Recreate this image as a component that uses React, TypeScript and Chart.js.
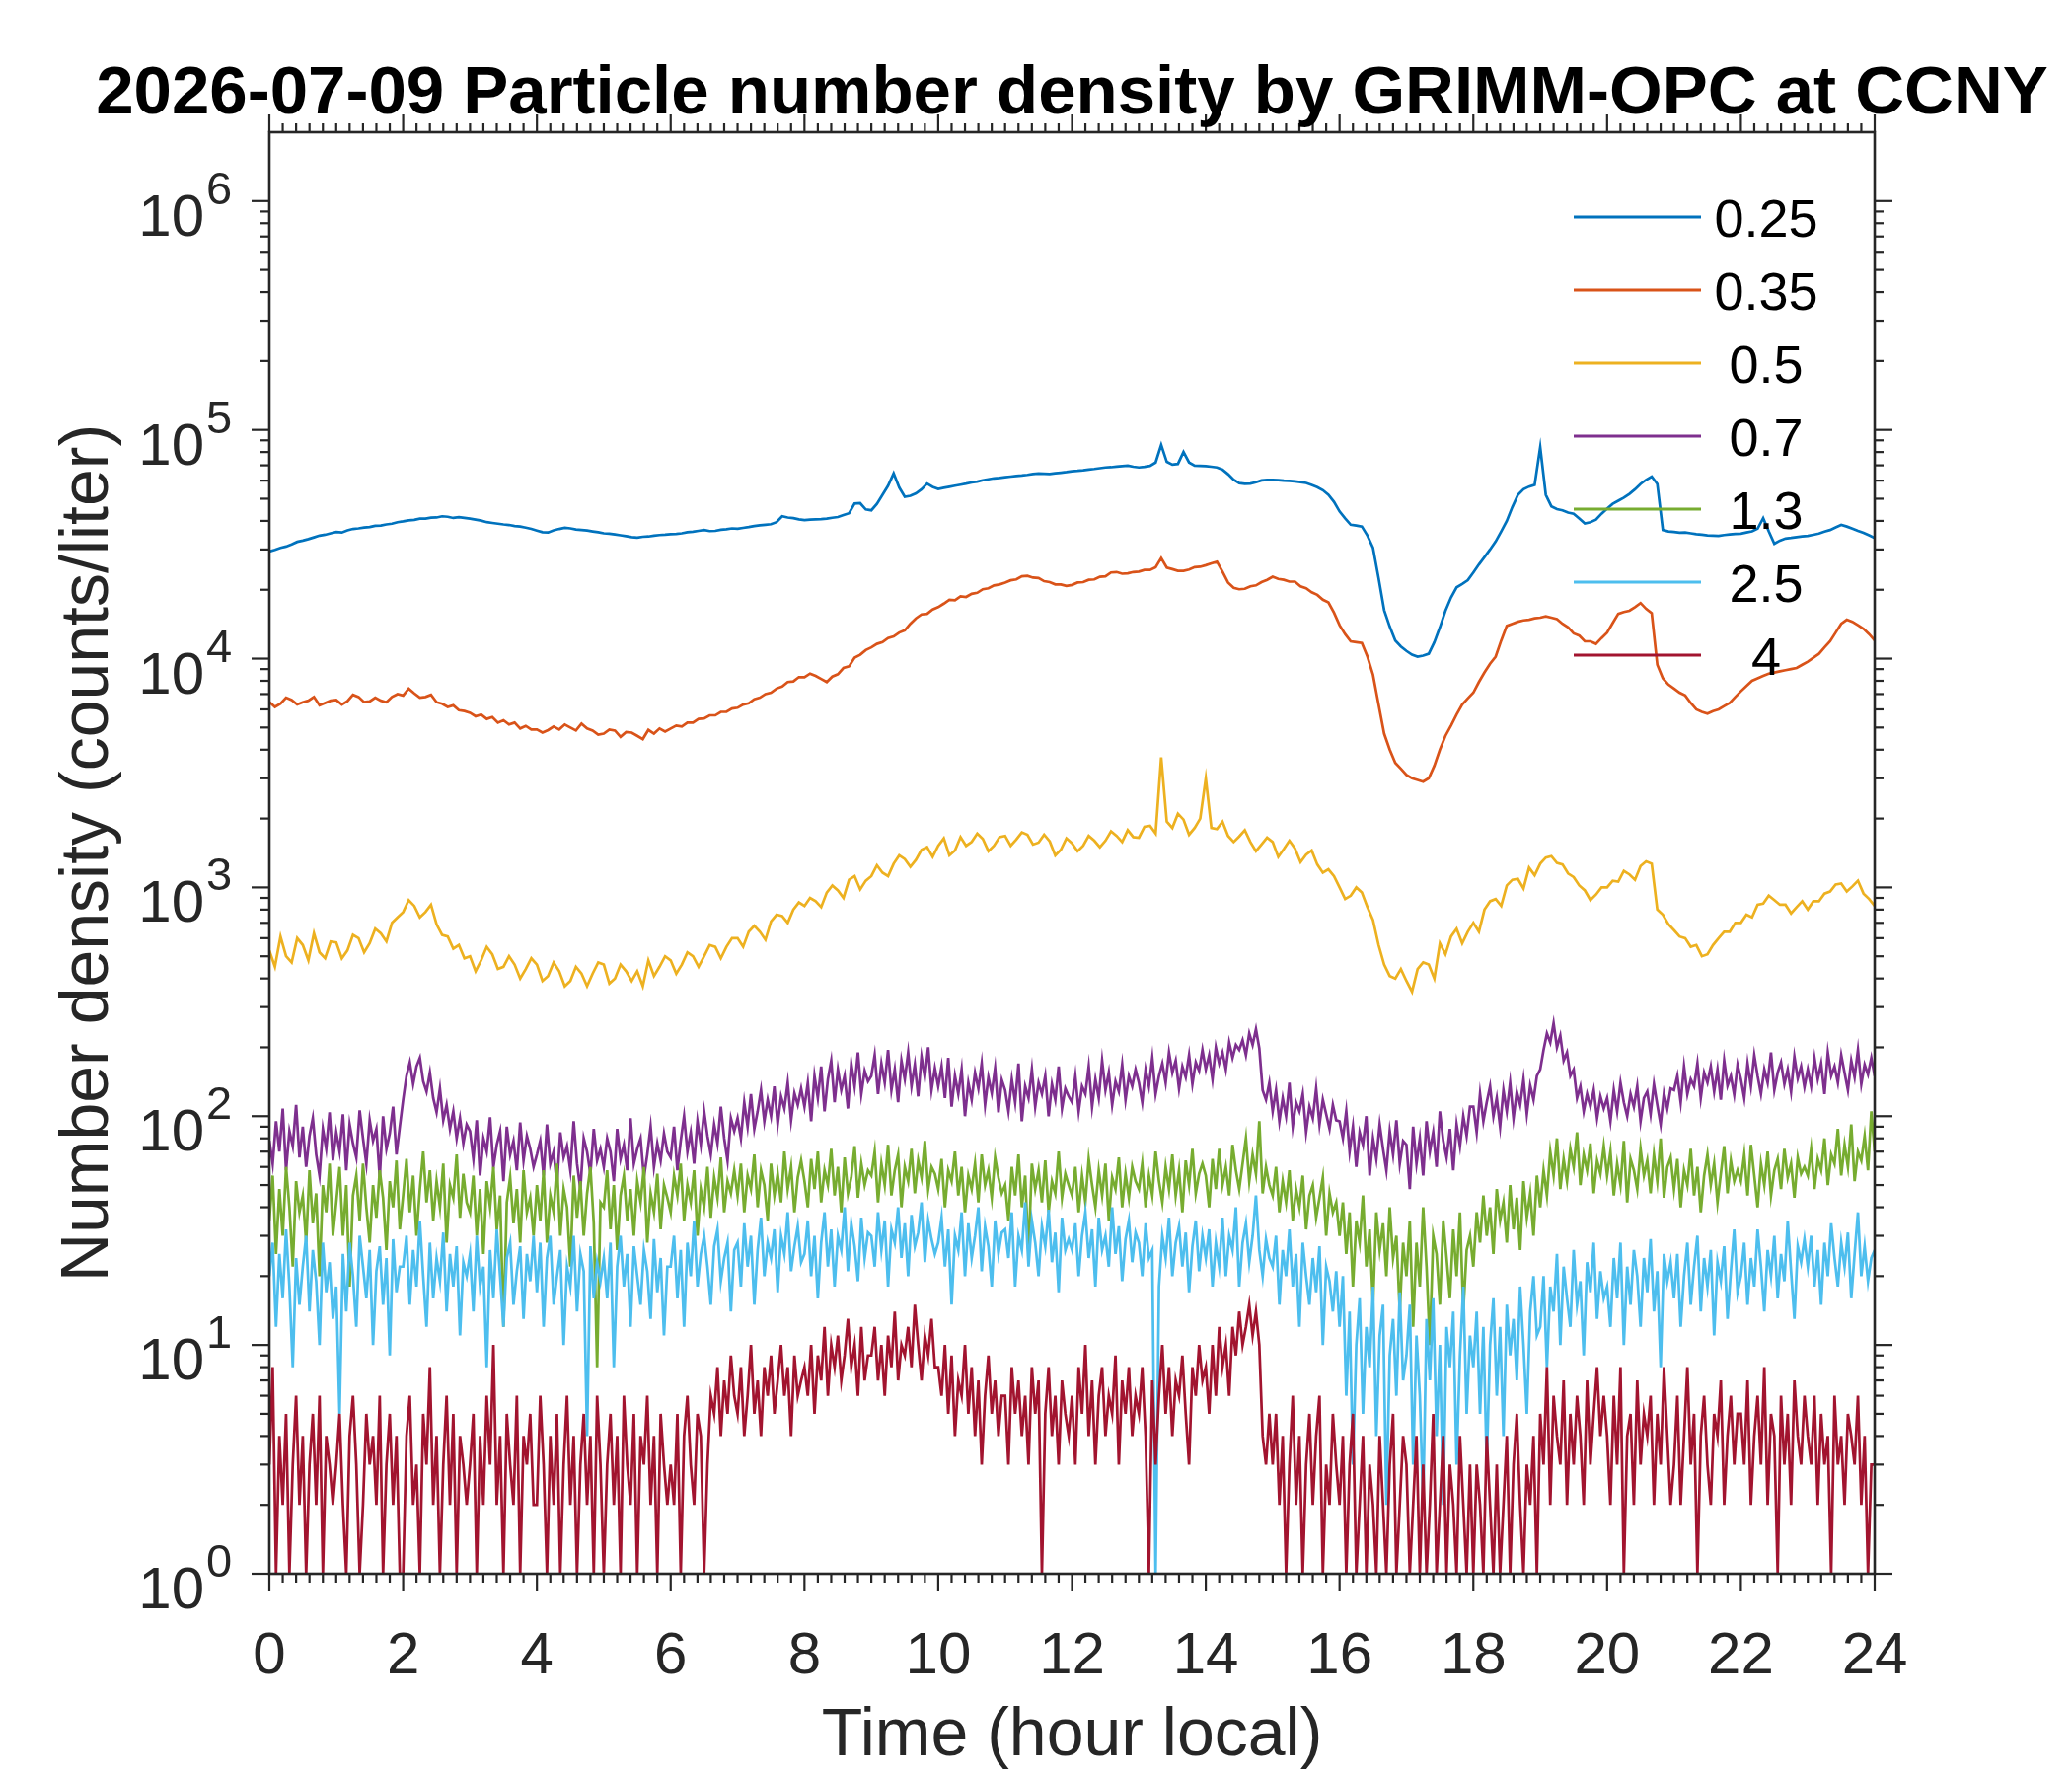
import React, { useEffect, useRef } from 'react';
import { Chart, registerables } from 'chart.js';

Chart.register(...registerables);

const TITLE = '2026-07-09 Particle number density by GRIMM-OPC at CCNY';
const X_TITLE = 'Time (hour local)';
const Y_TITLE = 'Number density (counts/liter)';
const SIZE_LABELS = ['0.25', '0.35', '0.5', '0.7', '1.3', '2.5', '4'];
const COLORS = ['#0072BD', '#D95319', '#EDB120', '#7E2F8E', '#77AC30', '#4DBEEE', '#A2142F'];
const X_TICKS = [0, 2, 4, 6, 8, 10, 12, 14, 16, 18, 20, 22, 24];
const Y_DECADES = [0, 1, 2, 3, 4, 5, 6];

// sampling times (hours): 5-minute and 3-minute records
const HOURS_5MIN = Array.from({ length: 289 }, (_, i) => i / 12);
const HOURS_3MIN = Array.from({ length: 481 }, (_, i) => i / 20);

// 0.25 um channel (5-min)
const N025 = [
  29400, 29900, 30500, 30900, 31600, 32400, 32800, 33300, 33900, 34500, 34800, 35300,
  35800, 35600, 36400, 36900, 37100, 37400, 37600, 38100, 38200, 38600, 38900, 39500,
  39800, 40200, 40400, 40900, 40900, 41300, 41400, 41900, 41700, 41200, 41500, 41200,
  40900, 40500, 40100, 39500, 39200, 38900, 38600, 38400, 38000, 37800, 37400, 36900,
  36300, 35700, 35600, 36400, 36900, 37300, 37100, 36700, 36500, 36300, 36000, 35700,
  35300, 35200, 34900, 34600, 34300, 34000, 33800, 34100, 34200, 34500, 34700, 34800,
  35000, 35100, 35300, 35700, 35900, 36200, 36500, 36100, 36200, 36600, 36800, 37100,
  37000, 37300, 37600, 38000, 38300, 38500, 38700, 39500, 41900, 41400, 41100, 40600,
  40300, 40500, 40600, 40700, 40900, 41300, 41600, 42400, 43200, 47600, 47800, 44900,
  44500, 47500, 52000, 57000, 64500, 56000, 51000, 51500, 52800, 55000, 58200, 56300,
  55200, 55800, 56400, 57000, 57600, 58200, 58900, 59400, 60200, 60800, 61400, 61700,
  62100, 62500, 62900, 63200, 63600, 64100, 64500, 64300, 64100, 64600, 65000, 65400,
  65900, 66200, 66600, 67100, 67500, 68000, 68500, 68700, 69100, 69500, 69800, 69000,
  68500, 68900, 69600, 72000, 86000, 72500, 70500, 71000, 80000, 72000, 69800, 69600,
  69400, 69000, 68500, 67000, 64000, 60500, 58500, 58100, 58200, 59000, 60100, 60400,
  60500, 60300, 60000, 59800, 59500, 59100, 58600, 57500, 56200, 54500, 52000, 48500,
  44000, 41000, 38500, 38200, 37800, 34500, 30500, 22500, 16300, 13800, 12000, 11300,
  10800, 10400, 10200, 10300, 10500, 11800, 13700, 16200, 18500, 20500, 21200, 22000,
  23800, 25800, 27800, 30000, 32500, 36000, 40000, 46000, 52000, 55000, 56500, 57500,
  84000, 52000, 46300, 45000, 44500, 43500, 43000, 41000, 39000, 39500, 40500, 43000,
  45300, 47500, 49000, 50500, 52500, 55000, 58000, 60500, 62500, 58000, 36500, 36000,
  35800, 35500, 35600, 35300, 35000, 34800, 34600, 34500, 34400, 34700, 34900, 35100,
  35200, 35600, 36000, 37000, 41100, 36000, 31800, 32800, 33500, 33700, 34000, 34200,
  34400, 34800, 35200, 35900, 36500, 37500, 38400, 37800, 37000, 36200, 35500, 34600,
  33700,
];

// 0.35 um channel (5-min)
const N035 = [
  6470, 6150, 6350, 6750, 6600, 6300, 6450, 6550, 6800, 6250, 6400, 6550,
  6600, 6300, 6520, 6950, 6800, 6450, 6500, 6750, 6550, 6450, 6800, 7000,
  6900, 7400, 7050, 6750, 6800, 6950, 6450, 6350, 6150, 6250, 5950, 5900,
  5800, 5600, 5700, 5450, 5550, 5250, 5380, 5150, 5250, 4950, 5080, 4900,
  4900, 4750, 4870, 5050, 4900, 5150, 5000, 4850, 5200, 4950, 4850, 4650,
  4700, 4900, 4850, 4550, 4780, 4750, 4600, 4450, 4880, 4700, 4950, 4800,
  4950, 5100, 5050, 5250, 5250, 5450, 5480, 5650, 5650, 5850, 5850, 6050,
  6100, 6300, 6380, 6650, 6750, 7000, 7100, 7400, 7550, 7900, 7950, 8300,
  8300, 8600, 8400, 8150, 7900, 8350, 8550, 9100, 9250, 10100, 10400, 10900,
  11200, 11600, 11800, 12300, 12500, 13000, 13300, 14200, 15000, 15600, 15700, 16400,
  16800, 17400, 18100, 18000, 18700, 18600, 19200, 19400, 20100, 20300, 20900, 21100,
  21500, 22000, 22200, 22900, 23000, 22600, 22500, 21800, 21600, 21100, 21100, 20800,
  21000, 21500, 21600, 22100, 22200, 22800, 22900, 23800, 23900, 23500, 23600, 23900,
  24000, 24400, 24400, 25100, 27500, 25000, 24600, 24200, 24200, 24500, 25100, 25200,
  25600, 26100, 26500, 24000, 21500, 20400, 20100, 20200, 20700, 20900, 21600, 22100,
  22800, 22300, 22100, 21700, 21700, 20700, 20300, 19500, 19000, 18100, 17600, 15900,
  14000, 12800, 11900, 11800, 11700, 10200, 8500, 6300, 4700, 4000, 3500, 3300,
  3100, 3000, 2950, 2900, 3000, 3400, 4000, 4600, 5100, 5700, 6300, 6700,
  7100, 7900, 8700, 9500, 10200, 12000, 13900, 14200, 14500, 14700, 14800, 15000,
  15100, 15300, 15100, 14900, 14200, 13700, 12900, 12600, 11900, 11900, 11600, 12300,
  13000, 14300, 15700, 16000, 16200, 16800, 17500, 16500, 15800, 9400, 8200, 7700,
  7400, 7100, 6900, 6400, 6000, 5850, 5750, 5900, 6000, 6200, 6400, 6800,
  7200, 7600, 8000, 8200, 8400, 8600, 8700, 8800, 8900, 9000, 9100, 9400,
  9700, 10100, 10500, 11200, 11900, 13000, 14200, 14800, 14500, 14000, 13500, 12800,
  12000,
];

// 0.5 um channel (5-min)
const N05 = [
  530, 450, 610, 500, 470, 600, 560, 480, 630, 520, 490, 580,
  575, 490, 530, 620, 600, 520, 570, 660, 630, 580, 700, 740,
  780, 880, 830, 740, 780, 840, 690, 620, 610, 540, 560, 490,
  500, 430, 480, 550, 510, 440, 450, 500, 460, 400, 440, 490,
  460, 390, 410, 470, 430, 370, 390, 450, 420, 370, 420, 470,
  460, 380, 400, 460, 430, 390, 430, 370, 480, 410, 450, 500,
  480, 420, 460, 520, 500, 450, 500, 560, 550, 490, 550, 600,
  600, 550, 640, 680, 640, 590, 710, 760, 750, 700, 800, 860,
  830, 900, 870, 820, 950, 1020, 970, 900, 1080, 1120, 980, 1070,
  1120, 1250, 1160, 1120, 1270, 1380, 1330, 1230, 1320, 1460, 1500, 1360,
  1520, 1640, 1380, 1450, 1660, 1520, 1580, 1720, 1630, 1440, 1520, 1660,
  1680, 1520, 1620, 1740, 1700, 1540, 1570, 1700, 1590, 1380, 1460, 1640,
  1560, 1440, 1520, 1680, 1600, 1500, 1600, 1760, 1680, 1580, 1780, 1660,
  1650, 1840, 1860, 1720, 3700, 1940, 1820, 2100, 1980, 1700, 1820, 2000,
  3000, 1820, 1800, 1940, 1680, 1580, 1670, 1780, 1580, 1440, 1540, 1650,
  1580, 1360, 1470, 1600, 1480, 1290, 1390, 1450, 1260, 1160, 1200, 1120,
  1000, 890, 920, 1000, 950, 820, 720, 560, 460, 410, 400, 440,
  390, 350, 440, 470, 460, 400, 570, 510, 610, 660, 570, 640,
  700, 640, 800, 870, 890, 830, 1020, 1080, 1090, 990, 1220, 1130,
  1270, 1350, 1370, 1280, 1260, 1150, 1110, 1020, 970, 880, 930, 1000,
  1000, 1070, 1060, 1180, 1140, 1080, 1240, 1300, 1270, 800, 760, 690,
  650, 610, 600, 550, 560, 500, 510, 560, 600, 640, 640, 700,
  700, 760, 740, 840, 850, 920, 880, 840, 840, 770, 820, 870,
  800, 870, 870, 940, 960, 1030, 1040, 960, 1010, 1070, 940, 890,
  830,
];

// 0.7 um channel (3-min)
const N07 = [
  78, 62, 95, 70, 108, 58, 86, 74, 112, 66, 90, 60, 82, 98, 68, 55, 88, 72, 104, 64,
  85, 70, 102, 58, 92, 76, 66, 106, 80, 62, 96, 78, 88, 54, 100, 72, 84, 110, 68, 90,
  118, 150, 172, 138, 165, 180, 142, 128, 155, 120, 104, 132, 96, 112, 88, 105, 80, 98, 76, 92,
  86, 65, 96, 55, 80, 70, 99, 60, 75, 86, 52, 90, 68, 78, 58, 94, 64, 82, 72, 60,
  68, 78, 55, 92, 62, 70, 50, 85, 66, 74, 58, 95, 62, 48, 80, 70, 56, 88, 64, 72,
  60, 80, 70, 52, 88, 65, 75, 58, 98, 62, 72, 80, 54, 68, 90, 60, 76, 64, 84, 70,
  66, 90, 58, 78, 100, 70, 85, 62, 95, 75, 105, 82, 68, 92, 76, 110, 80, 64, 98, 86,
  98, 80, 115, 90, 125, 88, 105, 130, 95, 118, 100, 135, 92, 122, 108, 140, 96, 126, 112, 132,
  110, 140, 95, 150, 120, 165, 105, 145, 175, 115, 160, 130, 150, 108, 170, 135, 190, 125, 158, 142,
  150, 185, 125, 170, 140, 195, 130, 160, 115, 175, 145, 190, 135, 168, 122, 182, 148, 200, 130, 162,
  135, 165, 120, 180, 110, 150, 125, 160, 100, 140, 118, 155, 132, 170, 112, 148, 126, 162, 104, 144,
  130, 105, 145, 115, 170, 95, 135, 120, 160, 110, 140, 125, 150, 100, 138, 118, 165, 108, 132, 122,
  115, 150, 105, 135, 125, 165, 110, 145, 120, 175, 130, 155, 112, 142, 128, 168, 118, 150, 135, 160,
  140, 115, 160, 135, 180, 125, 150, 170, 140, 190, 155, 175, 132, 165, 148, 185, 138, 172, 158, 195,
  160, 185, 145, 200, 170, 190, 160, 210, 180, 205, 195, 215, 185, 230, 205, 240, 198, 130, 118, 140,
  105, 130, 95, 120, 100, 140, 90, 115, 105, 125, 85, 110, 98, 132, 92, 118, 102, 88, 112, 96,
  95, 80, 105, 70, 90, 60, 85, 75, 100, 55, 80, 65, 92, 72, 58, 86, 68, 96, 62, 78,
  75, 48, 90, 62, 80, 55, 95, 70, 85, 60, 105, 78, 66, 88, 58, 92, 74, 100, 82, 110,
  110, 85, 125, 95, 115, 135, 100, 120, 90, 130, 105, 140, 98, 128, 112, 145, 102, 136, 118, 150,
  160, 195, 230, 210, 255, 200, 225, 175, 190, 150, 160, 120, 135, 105, 125, 110, 130, 98, 122, 108,
  120, 95, 130, 105, 140, 115, 100, 125, 110, 135, 95, 120, 128, 102, 138, 112, 92, 126, 108, 132,
  130, 150, 115, 165, 125, 145, 135, 170, 120, 155, 140, 165, 128, 160, 118, 175, 136, 150, 124, 168,
  145, 120, 170, 135, 185, 150, 125, 160, 140, 190, 130, 155, 172, 138, 160, 128, 182, 146, 165, 134,
  160, 135, 180, 145, 170, 125, 190, 150, 165, 140, 185, 155, 130, 175, 148, 195, 138, 168, 152, 180,
  150,
];

// 1.3 um channel (3-min)
const N13 = [
  35, 55, 25, 48, 30, 60, 40, 22, 52, 38, 45, 28, 58, 34, 46, 20, 50, 38, 62, 30,
  42, 60, 30, 50, 18, 45, 55, 35, 62, 40, 28, 50, 36, 58, 44, 26, 52, 40, 64, 32,
  45, 65, 38, 55, 30, 48, 70, 42, 58, 35, 52, 40, 62, 28, 50, 44, 68, 36, 56, 42,
  38, 55, 30, 48, 25, 52, 40, 60, 32, 45, 12, 42, 54, 34, 48, 28, 58, 38, 44, 30,
  50, 35, 58, 28, 45, 38, 62, 30, 48, 40, 22, 55, 36, 52, 30, 46, 60, 34, 8, 42,
  40, 58, 32, 50, 26, 45, 55, 35, 48, 30, 52, 42, 60, 28, 46, 38, 56, 32, 50, 44,
  38, 55, 45, 62, 35, 50, 42, 58, 30, 48, 40, 60, 36, 54, 44, 66, 38, 52, 46, 58,
  45, 62, 38, 55, 48, 68, 40, 58, 50, 35, 62, 45, 56, 42, 70, 48, 60, 38, 54, 64,
  52, 40, 65, 48, 70, 42, 58, 50, 72, 45, 60, 38, 66, 46, 54, 74, 44, 62, 50, 58,
  55, 70, 42, 62, 50, 75, 45, 58, 68, 40, 60, 52, 72, 46, 64, 54, 78, 48, 60, 56,
  48, 65, 40, 58, 52, 70, 45, 60, 38, 55, 48, 62, 42, 68, 50, 58, 44, 66, 54, 46,
  50, 35, 60, 45, 68, 40, 55, 25, 62, 48, 58, 42, 64, 38, 52, 46, 70, 44, 56, 50,
  45, 60, 38, 55, 42, 65, 50, 40, 58, 45, 62, 35, 54, 48, 66, 40, 56, 44, 60, 52,
  48, 62, 40, 55, 45, 70, 52, 42, 60, 48, 68, 45, 58, 38, 64, 50, 72, 46, 56, 62,
  55, 40, 65, 48, 72, 50, 60, 45, 75, 58, 48, 62, 80, 52, 68, 56, 95, 46, 60, 50,
  45, 60, 38, 52, 42, 58, 35, 48, 40, 55, 32, 45, 50, 36, 44, 54, 30, 46, 38, 42,
  30, 42, 25, 38, 18, 35, 28, 45, 22, 32, 15, 38, 26, 34, 20, 40, 24, 30, 14, 28,
  20, 35, 12, 28, 18, 40, 22, 10, 30, 25, 15, 35, 24, 16, 32, 20, 38, 14, 26, 30,
  22, 38, 28, 45, 30, 40, 25, 48, 35, 42, 28, 50, 32, 44, 26, 52, 36, 46, 30, 55,
  40, 58, 45, 70, 55, 80, 48, 65, 52, 72, 60, 85, 50, 68, 58, 76, 46, 64, 56, 74,
  55, 70, 45, 62, 50, 78, 42, 65, 58, 48, 72, 55, 64, 46, 68, 52, 80, 44, 60, 66,
  48, 65, 40, 58, 50, 72, 45, 60, 38, 55, 68, 50, 62, 42, 56, 74, 46, 64, 52, 58,
  52, 68, 45, 75, 55, 40, 62, 50, 70, 45, 58, 65, 48, 72, 54, 62, 44, 66, 56, 60,
  55, 72, 48, 65, 58, 80, 50, 68, 62, 88, 55, 75, 60, 92, 52, 70, 64, 82, 58, 105,
  70,
];

// 2.5 um channel (3-min)
const N25 = [
  20, 28, 12, 25, 16, 32, 18, 8, 24, 15, 22, 30, 14, 26, 19, 10, 28, 17, 23, 13,
  18, 5, 25, 14, 28, 20, 12, 30, 22, 16, 26, 10, 21, 27, 15, 24, 9, 29, 17, 22,
  22, 30, 15, 26, 18, 35, 20, 12, 28, 16, 24, 19, 31, 14, 25, 18, 27, 11, 23, 20,
  25, 14, 30, 18, 22, 8, 26, 16, 32, 20, 12, 24, 28, 15, 21, 27, 13, 25, 19, 30,
  17, 28, 12, 24, 30, 15, 20, 26, 10, 22, 18, 30, 14, 25, 21, 4, 27, 16, 23, 19,
  24, 16, 28, 8, 22, 30, 18, 25, 12, 27, 20, 15, 26, 21, 13, 29, 17, 24, 11, 22,
  22, 30, 16, 26, 12, 28, 20, 35, 18, 25, 30, 22, 15, 27, 32, 19, 24, 28, 14, 26,
  28, 18, 34, 22, 30, 15, 26, 36, 20, 28, 24, 32, 17, 30, 25, 38, 21, 27, 33, 23,
  25, 35, 20, 30, 16, 28, 38, 22, 32, 18, 30, 26, 40, 21, 34, 27, 19, 36, 24, 31,
  30, 22, 38, 26, 35, 18, 32, 28, 40, 24, 34, 20, 37, 27, 31, 42, 23, 35, 29, 25,
  28, 36, 22, 32, 15, 30, 26, 38, 20, 34, 24, 30, 40, 21, 33, 27, 18, 35, 25, 31,
  32, 24, 38, 18, 30, 26, 42, 22, 35, 28, 20, 33, 27, 39, 23, 31, 17, 36, 26, 29,
  26, 34, 20, 30, 38, 24, 32, 18, 36, 26, 30, 22, 40, 25, 33, 19, 29, 35, 23, 31,
  28, 20, 34, 24, 26, 1, 18, 30, 24, 36, 20, 28, 33, 22, 31, 17, 27, 35, 21, 30,
  24, 32, 18, 28, 22, 36, 20, 30, 26, 40, 18, 28, 34, 23, 30, 45, 26, 20, 29, 24,
  22, 30, 15, 26, 20, 32, 18, 25, 12, 28, 20, 15, 24, 17, 27, 10, 22, 19, 14, 21,
  12, 20, 6, 14, 3, 10, 16, 5, 12, 8, 18, 4, 11, 15, 2, 9, 13, 6, 17, 7,
  9, 15, 3, 11, 6, 2, 13, 7, 16, 4, 10, 2, 12, 8, 14, 3, 9, 18, 5, 11,
  8, 14, 5, 12, 3, 10, 16, 6, 12, 4, 15, 9, 13, 7, 18, 10, 5, 14, 20, 11,
  12, 20, 8, 18, 14, 25, 10, 22, 16, 12, 26, 15, 19, 9, 23, 17, 28, 13, 21, 16,
  18, 12, 24, 16, 28, 10, 22, 15, 26, 20, 12, 24, 17, 29, 14, 21, 8, 25, 19, 23,
  16, 25, 12, 20, 28, 15, 22, 30, 14, 24, 18, 26, 11, 23, 19, 27, 13, 21, 32, 17,
  20, 28, 15, 24, 18, 32, 22, 14, 26, 20, 30, 16, 25, 19, 35, 21, 13, 27, 23, 29,
  22, 30, 18, 26, 15, 28, 20, 34, 24, 18, 28, 22, 31, 16, 25, 38, 20, 27, 19, 24,
  26,
];

// 4 um channel (3-min)
const N4 = [
  3, 8, 1, 4, 2, 5, 1, 3, 6, 2, 4, 1, 3, 5, 2, 6, 1, 4, 3, 2,
  3, 5, 2, 1, 4, 6, 3, 1, 2, 5, 3, 4, 2, 6, 1, 3, 5, 2, 4, 1,
  1, 4, 6, 2, 3, 1, 5, 3, 8, 2, 4, 1, 3, 6, 2, 5, 1, 4, 3, 2,
  3, 5, 1, 4, 2, 6, 3, 10, 2, 4, 1, 5, 3, 2, 6, 1, 4, 3, 5, 2,
  2, 6, 3, 1, 4, 2, 5, 1, 3, 6, 2, 4, 1, 3, 5, 2, 4, 1, 6, 3,
  1, 3, 5, 2, 4, 1, 6, 3, 2, 5, 1, 4, 3, 6, 2, 4, 1, 5, 3, 2,
  3, 2, 5, 1, 4, 6, 3, 2, 5, 4, 1, 3, 6, 5, 8, 4, 7, 5, 9, 6,
  5, 8, 4, 6, 10, 5, 7, 4, 8, 6, 9, 5, 7, 10, 6, 8, 4, 9, 6, 7,
  8, 6, 10, 5, 9, 7, 12, 6, 10, 8, 11, 7, 9, 13, 8, 10, 6, 12, 7, 9,
  9, 12, 7, 10, 6, 11, 8, 14, 7, 10, 9, 12, 8, 15, 10, 7, 11, 9, 13, 8,
  8, 6, 10, 5, 9, 4, 7, 6, 10, 5, 8, 4, 7, 3, 6, 9, 5, 7, 4, 6,
  6, 3, 8, 5, 7, 4, 6, 3, 8, 5, 7, 1, 5, 8, 4, 6, 3, 7, 5, 4,
  6, 3, 8, 5, 10, 4, 7, 3, 6, 8, 4, 6, 5, 9, 3, 7, 5, 8, 4, 6,
  5, 8, 4, 1, 7, 3, 6, 10, 5, 8, 4, 7, 6, 9, 5, 3, 8, 6, 10, 7,
  8, 5, 10, 6, 12, 8, 10, 6, 12, 9, 14, 10, 12, 15, 11, 14, 10, 4, 3, 5,
  3, 5, 2, 4, 1, 3, 6, 2, 4, 1, 3, 5, 2, 4, 6, 1, 3, 2, 5, 3,
  2, 4, 1, 3, 5, 1, 2, 4, 1, 3, 2, 1, 4, 2, 1, 3, 5, 1, 2, 4,
  3, 1, 2, 4, 1, 3, 1, 2, 5, 1, 2, 4, 1, 3, 2, 1, 4, 2, 1, 3,
  1, 3, 2, 1, 4, 2, 1, 3, 1, 2, 4, 1, 3, 5, 2, 1, 3, 2, 4, 1,
  5, 3, 8, 2, 6, 4, 3, 7, 2, 5, 3, 6, 4, 2, 7, 3, 5, 8, 4, 6,
  4, 2, 6, 3, 8, 1, 4, 5, 2, 7, 3, 5, 4, 6, 2, 5, 3, 8, 4, 2,
  3, 6, 2, 4, 8, 3, 5, 1, 4, 6, 3, 2, 5, 4, 7, 2, 4, 6, 3, 5,
  5, 3, 7, 2, 4, 6, 3, 8, 2, 5, 4, 1, 6, 3, 5, 2, 7, 4, 3, 6,
  4, 3, 6, 2, 5, 3, 4, 1, 6, 3, 4, 2, 5, 4, 3, 6, 2, 4, 1, 3,
  3,
];

const SERIES = [
  { hours: HOURS_5MIN, values: N025 },
  { hours: HOURS_5MIN, values: N035 },
  { hours: HOURS_5MIN, values: N05 },
  { hours: HOURS_3MIN, values: N07 },
  { hours: HOURS_3MIN, values: N13 },
  { hours: HOURS_3MIN, values: N25 },
  { hours: HOURS_3MIN, values: N4 },
];

const FONT = '"Liberation Sans", Arial, Helvetica, sans-serif';
const AXIS_COLOR = '#262626';

const matlabFrame = {
  id: 'matlabFrame',
  afterDatasetsDraw(chart: any) {
    const { ctx, chartArea: a, scales } = chart;
    const x = scales.x;
    const y = scales.y;
    const seg = (x1: number, y1: number, x2: number, y2: number) => {
      ctx.beginPath();
      ctx.moveTo(x1, y1);
      ctx.lineTo(x2, y2);
      ctx.stroke();
    };
    ctx.save();
    ctx.strokeStyle = AXIS_COLOR;
    ctx.lineCap = 'butt';

    // box
    ctx.lineWidth = 2.6;
    ctx.strokeRect(a.left, a.top, a.right - a.left, a.bottom - a.top);

    // x ticks (major every 2 h, minor every 0.2 h), outward on bottom and top
    ctx.lineWidth = 2.2;
    for (let k = 0; k <= 120; k++) {
      const px = x.getPixelForValue(k / 5);
      const len = k % 10 === 0 ? 18 : 9;
      seg(px, a.bottom, px, a.bottom + len);
      seg(px, a.top, px, a.top - len);
    }
    // y ticks (log decades + minor), outward on left and right
    for (const d of Y_DECADES) {
      for (let m = 1; m <= 9; m++) {
        const v = m * Math.pow(10, d);
        if (v >= y.max) break;
        const py = y.getPixelForValue(v);
        const len = m === 1 ? 18 : 9;
        seg(a.left - len, py, a.left, py);
        seg(a.right, py, a.right + len, py);
      }
    }

    // x tick labels
    ctx.fillStyle = AXIS_COLOR;
    ctx.font = `60px ${FONT}`;
    ctx.textAlign = 'center';
    ctx.textBaseline = 'alphabetic';
    for (const v of X_TICKS) {
      ctx.fillText(String(v), x.getPixelForValue(v), a.bottom + 101);
    }
    // y tick labels 10^n
    for (const d of Y_DECADES) {
      const py = y.getPixelForValue(Math.pow(10, d));
      ctx.font = `60px ${FONT}`;
      ctx.textAlign = 'right';
      ctx.fillText('10', a.left - 66, py + 35);
      ctx.font = `47px ${FONT}`;
      ctx.textAlign = 'left';
      ctx.fillText(String(d), a.left - 64, py + 3);
    }

    // axis titles
    ctx.font = `68px ${FONT}`;
    ctx.textAlign = 'center';
    ctx.fillText(X_TITLE, (a.left + a.right) / 2, a.bottom + 184);
    ctx.save();
    ctx.translate(109, (a.top + a.bottom) / 2);
    ctx.rotate(-Math.PI / 2);
    ctx.fillText(Y_TITLE, 0, 0);
    ctx.restore();

    // title
    ctx.fillStyle = '#000000';
    ctx.font = `bold 69px ${FONT}`;
    ctx.fillText(TITLE, (a.left + a.right) / 2, 115);

    // legend (no box)
    ctx.font = `54px ${FONT}`;
    ctx.lineWidth = 2.8;
    SIZE_LABELS.forEach((lab, i) => {
      const ly = a.top + 86 + i * 74;
      ctx.strokeStyle = COLORS[i];
      seg(a.right - 305, ly, a.right - 176, ly);
      ctx.fillStyle = '#000000';
      ctx.textAlign = 'center';
      ctx.fillText(lab, a.right - 110, ly + 20);
    });
    ctx.restore();
  },
};

export default function App() {
  const canvasRef = useRef<HTMLCanvasElement | null>(null);

  useEffect(() => {
    const canvas = canvasRef.current;
    if (!canvas) return;
    const datasets = SERIES.map((s, i) => ({
      label: SIZE_LABELS[i],
      data: s.values.map((v, j) => ({ x: s.hours[j], y: v })),
      borderColor: COLORS[i],
      backgroundColor: COLORS[i],
      borderWidth: 2.7,
      pointRadius: 0,
      tension: 0,
      fill: false,
      order: SERIES.length - i,
    }));
    const chart = new Chart(canvas, {
      type: 'line',
      data: { datasets },
      options: {
        animation: false,
        responsive: false,
        devicePixelRatio: 1,
        layout: { padding: { top: 134, right: 200, left: 0, bottom: 0 } },
        plugins: {
          legend: { display: false },
          title: { display: false },
          tooltip: { enabled: false },
        },
        scales: {
          x: {
            type: 'linear',
            min: 0,
            max: 24,
            grid: { display: false },
            border: { display: false },
            ticks: { display: false },
            afterFit: (s: any) => {
              s.height = 205;
            },
          },
          y: {
            type: 'logarithmic',
            min: 1,
            max: 2e6,
            grid: { display: false },
            border: { display: false },
            ticks: { display: false },
            afterFit: (s: any) => {
              s.width = 273;
            },
          },
        },
      },
      plugins: [matlabFrame],
    } as any);
    return () => chart.destroy();
  }, []);

  return (
    <div style={{ position: 'absolute', left: 0, top: 0, width: 2100, height: 1800, background: '#ffffff' }}>
      <canvas ref={canvasRef} width={2100} height={1800} style={{ width: 2100, height: 1800, display: 'block' }} />
    </div>
  );
}
